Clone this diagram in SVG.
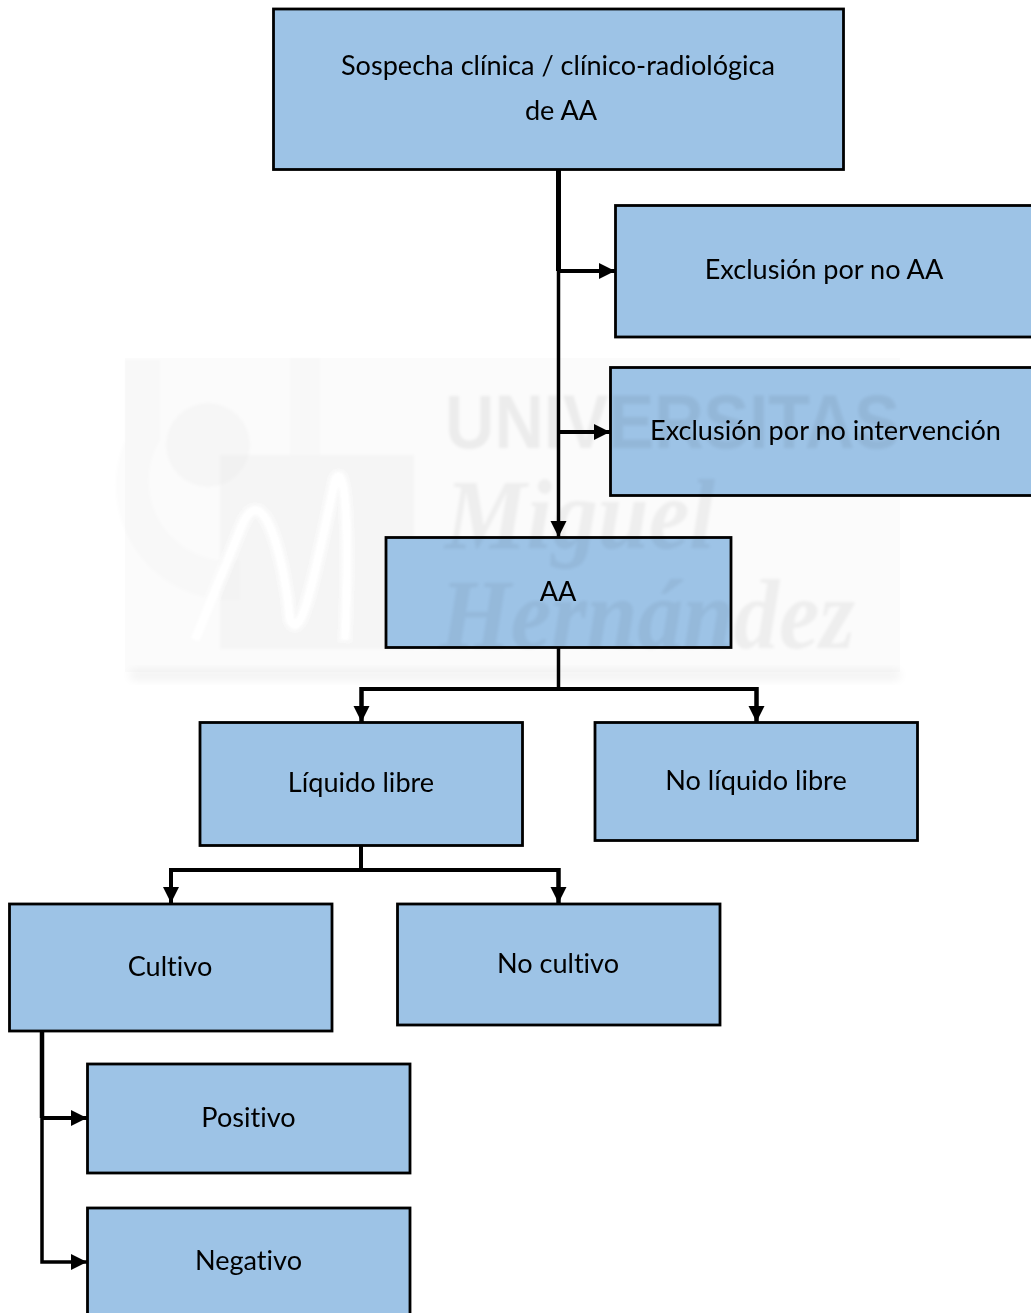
<svg xmlns="http://www.w3.org/2000/svg" width="1031" height="1313" viewBox="0 0 1031 1313">
<style>
.n{fill:#9dc3e6;stroke:#000;stroke-width:2.800}
.t{font-family:"Lato","Liberation Sans",sans-serif;font-size:27.100px;fill:#000;text-anchor:middle;font-variant-ligatures:none}
.c{fill:none;stroke:#000;stroke-width:4}
.wt{fill:#000;opacity:.05;font-family:"Liberation Serif",serif;font-style:italic;font-weight:700;font-size:100px}
</style>
<defs>
<marker id="a" markerUnits="userSpaceOnUse" markerWidth="17" markerHeight="17" refX="16" refY="8.500" orient="auto"><path d="M0 .5L16 8.500L0 16.500Z" fill="#000"/></marker>
<filter id="b" x="-10%" y="-10%" width="120%" height="120%"><feGaussianBlur stdDeviation="1.500"/></filter>
<filter id="s" x="-10%" y="-50%" width="120%" height="200%"><feGaussianBlur stdDeviation="5"/></filter>
</defs>
<rect width="1031" height="1313" fill="#fff"/>
<g id="watermark-back">
<rect x="125" y="358" width="775" height="314" fill="#000" opacity=".014"/>
<rect x="130" y="670" width="770" height="10" fill="#000" opacity=".05" filter="url(#s)"/>
<g filter="url(#b)">
<path d="M125 440A115 115 0 0 0 240 600V560A80 80 0 0 1 160 440V360H125Z" fill="#000" opacity=".012"/>
<path d="M290 358H320V455H290Z" fill="#000" opacity=".012"/>
<circle cx="208" cy="445" r="42" fill="#000" opacity=".018"/>
<rect x="220" y="455" width="194" height="194" fill="#000" opacity=".025"/>
<path d="M195 640L240 530C262 470 285 560 290 620C300 640 310 600 335 480C345 460 350 520 345 640" fill="none" stroke="#fff" stroke-width="9"/>
</g>
</g>
<g id="n1"><rect class="n" x="273.500" y="9" width="570" height="160.500"/><text class="t" x="558" y="75">Sospecha clínica / clínico-radiológica</text><text class="t" x="561" y="120">de AA</text></g>
<g id="n2"><rect class="n" x="615.500" y="205.500" width="420" height="131.500"/><text class="t" x="824" y="279">Exclusión por no AA</text></g>
<g id="n3"><rect class="n" x="610.500" y="367.500" width="425" height="128"/><text class="t" x="825.500" y="440">Exclusión por no intervención</text></g>
<g id="n4"><rect class="n" x="386" y="537.500" width="345" height="110"/><text class="t" x="558" y="601">AA</text></g>
<g id="n5"><rect class="n" x="200" y="722.500" width="322.500" height="123"/><text class="t" x="361" y="792">Líquido libre</text></g>
<g id="n6"><rect class="n" x="595" y="722.500" width="322.500" height="118"/><text class="t" x="756" y="790">No líquido libre</text></g>
<g id="n7"><rect class="n" x="9.500" y="904" width="322.500" height="127"/><text class="t" x="170" y="976">Cultivo</text></g>
<g id="n8"><rect class="n" x="397.500" y="904" width="322.500" height="121"/><text class="t" x="558" y="973">No cultivo</text></g>
<g id="n9"><rect class="n" x="87.500" y="1064" width="322.500" height="109"/><text class="t" x="248.500" y="1127">Positivo</text></g>
<g id="n10"><rect class="n" x="87.500" y="1208" width="322.500" height="115"/><text class="t" x="248.500" y="1270">Negativo</text></g>
<g id="connectors">
<path class="c" d="M558.500 170V271" style="stroke-width:5"/>
<path class="c" d="M558.500 271V537" style="stroke-width:3.500" marker-end="url(#a)"/>
<path class="c" d="M558.500 271H615" marker-end="url(#a)"/>
<path class="c" d="M558.500 432H610" marker-end="url(#a)"/>
<path class="c" d="M558.500 648V689" style="stroke-width:3.500"/>
<path class="c" d="M361.500 722V689H756.500V722" marker-end="url(#a)"/>
<path class="c" d="M756.500 722V689H361.500V722" marker-end="url(#a)"/>
<path class="c" d="M361 846V870"/>
<path class="c" d="M171 903V870H558.500V903" marker-end="url(#a)"/>
<path class="c" d="M558.500 903V870H171V903" marker-end="url(#a)"/>
<path class="c" d="M42 1118V1032" style="stroke-width:4.500"/>
<path class="c" d="M42 1118V1262H87" style="stroke-width:3.500" marker-end="url(#a)"/>
<path class="c" d="M42 1118H87" marker-end="url(#a)"/>
</g>
<g id="watermark" filter="url(#b)">
<text x="445" y="448" style="fill:#000;opacity:.06;font-family:'Liberation Sans',sans-serif;font-weight:700;font-size:76px" textLength="455" lengthAdjust="spacingAndGlyphs">UNIVERSITAS</text>
<text class="wt" x="445" y="548" textLength="270" lengthAdjust="spacingAndGlyphs">Miguel</text>
<text class="wt" x="440" y="648" textLength="415" lengthAdjust="spacingAndGlyphs">Hernández</text>
</g>
</svg>
